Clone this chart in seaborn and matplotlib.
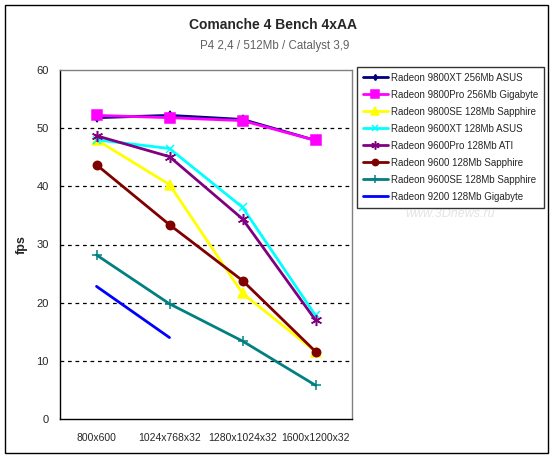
import matplotlib
matplotlib.use('Agg')
import matplotlib.pyplot as plt
from matplotlib.patches import Rectangle
import seaborn as sns
import pandas as pd

resolutions = ['800x600', '1024x768x32', '1280x1024x32', '1600x1200x32']

r9800xt = [51.8, 52.2, 51.5, 47.9]
r9800pro = [52.2, 51.8, 51.3, 47.9]
r9800se = [48.0, 40.3, 21.6, 11.6]
r9600xt = [48.0, 46.5, 36.4, 17.8]
r9600pro = [48.7, 45.1, 34.4, 17.0]
r9600 = [43.7, 33.4, 23.8, 11.6]
r9600se = [28.2, 19.8, 13.4, 5.8]
r9200 = [22.8, 14.0]

series = [
    ('Radeon 9800XT 256Mb ASUS', r9800xt, '#000080', 'd', 4),
    ('Radeon 9800Pro 256Mb Gigabyte', r9800pro, '#FF00FF', 's', 7),
    ('Radeon 9800SE 128Mb Sapphire', r9800se, '#FFFF00', '^', 7),
    ('Radeon 9600XT 128Mb ASUS', r9600xt, '#00FFFF', 'x', 6),
    ('Radeon 9600Pro 128Mb ATI', r9600pro, '#800080', (6, 2, 0), 8),
    ('Radeon 9600 128Mb Sapphire', r9600, '#800000', 'o', 6),
    ('Radeon 9600SE 128Mb Sapphire', r9600se, '#008080', '+', 7),
    ('Radeon 9200 128Mb Gigabyte', r9200, '#0000FF', None, 0),
]

sns.set_style('white')
plt.rcParams['font.family'] = ['Liberation Sans', 'DejaVu Sans']

fig = plt.figure(figsize=(5.54, 4.58), dpi=100)
ax = fig.add_axes([60 / 554, 1 - 419 / 458, 292 / 554, 349 / 458])

for name, vals, color, marker, ms in series:
    df = pd.DataFrame({'res': list(range(len(vals))), 'fps': vals})
    sns.lineplot(data=df, x='res', y='fps', ax=ax, color=color, lw=2,
                 marker=marker, markersize=ms, markeredgecolor=color,
                 markeredgewidth=1.1, label=name, zorder=3)

ax.set_xlim(-0.5, 3.5)
ax.set_ylim(0, 60)
ax.set_yticks(range(0, 61, 10))
for yv in range(10, 60, 10):
    ax.axhline(yv, color='black', lw=0.9, ls=(0, (3, 3)), zorder=1)

ax.set_xticks([-0.5, 0.5, 1.5, 2.5, 3.5])
ax.set_xticklabels([])
ax.set_xticks(range(4), minor=True)
ax.set_xticklabels(resolutions, minor=True, fontsize=7.5)
ax.tick_params(axis='x', which='minor', length=0, pad=10)
ax.tick_params(axis='x', which='major', length=4, direction='in', width=0.8, color='black')
ax.tick_params(axis='y', length=4, direction='out', width=0.8, labelsize=8, pad=4)
ax.set_xlabel('')
ax.set_ylabel('fps', fontsize=9, fontweight='bold', labelpad=6)

for side in ['top', 'right']:
    ax.spines[side].set_color('#808080')
    ax.spines[side].set_linewidth(1)
for side in ['left', 'bottom']:
    ax.spines[side].set_color('black')
    ax.spines[side].set_linewidth(1)

fig.text(273 / 554, 1 - 25 / 458, 'Comanche 4 Bench 4xAA', ha='center', va='center',
         fontsize=10, fontweight='bold')
fig.text(275 / 554, 1 - 46 / 458, 'P4 2,4 / 512Mb / Catalyst 3,9', ha='center', va='center',
         fontsize=8.3, color='#606060')
fig.text(450 / 554, 1 - 214 / 458, 'www.3Dnews.ru', ha='center', va='center',
         fontsize=9, color='#E4E4E4', style='italic')

ax.get_legend().remove()
handles, labels = ax.get_legend_handles_labels()
leg = fig.legend(handles, labels, loc='upper left',
                 bbox_to_anchor=(357 / 554, 1 - 67 / 458), bbox_transform=fig.transFigure,
                 fontsize=7, frameon=True, fancybox=False, handlelength=2.6,
                 labelspacing=0.72, borderpad=0.6, handletextpad=0.3, borderaxespad=0,
                 markerscale=0.75)
leg.get_frame().set_edgecolor('black')
leg.get_frame().set_linewidth(1)

fig.patches.append(Rectangle((5 / 554, 5 / 458), 543 / 554, 448 / 458, fill=False,
                             edgecolor='black', lw=1, transform=fig.transFigure, figure=fig))

fig.savefig('out.png', dpi=100)
